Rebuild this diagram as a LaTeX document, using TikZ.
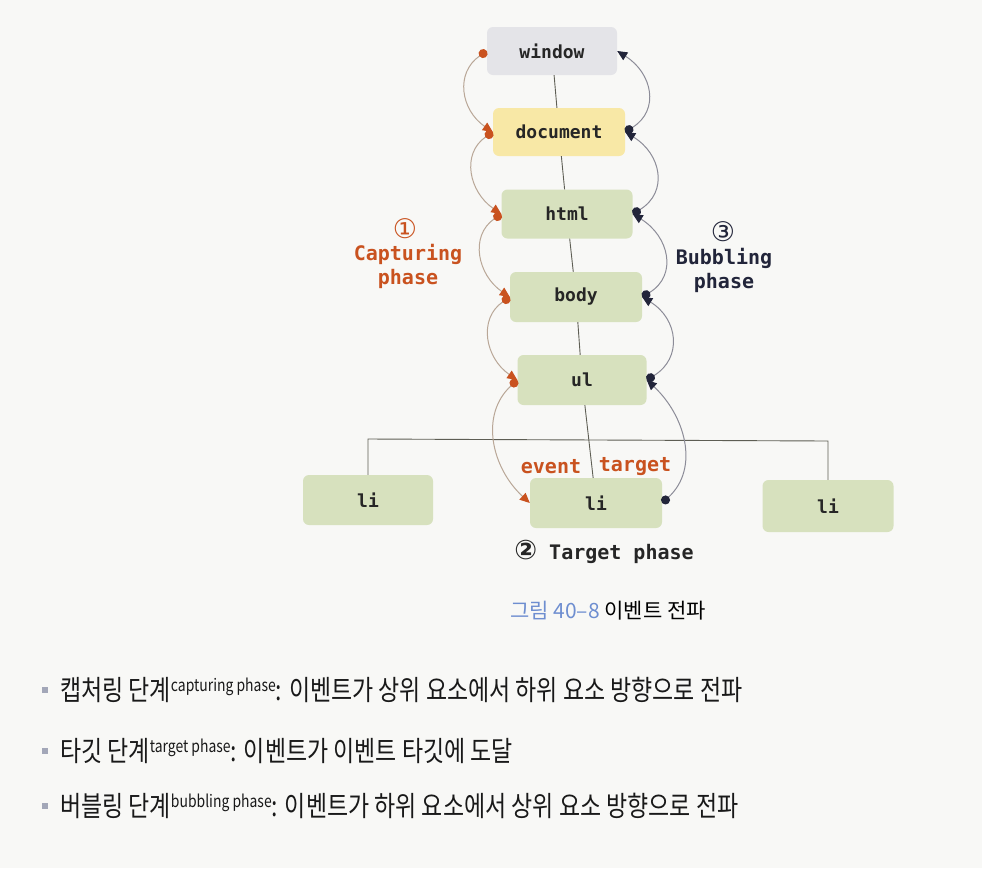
\documentclass[tikz,border=0pt]{standalone}
\usepackage{fontspec}
\setmainfont{Fira Sans}
\newfontfamily\monofnt{DejaVu Sans Mono}[BoldFont={DejaVu Sans Mono Bold}]
\newfontfamily\circfont{DejaVu Sans}
\newfontfamily\krfont{Noto Sans CJK KR}[FakeStretch=0.82]
\newfontfamily\krcap{Noto Sans CJK KR}
\usetikzlibrary{arrows.meta}
\definecolor{capc}{HTML}{C9521F}
\definecolor{bubc}{HTML}{22253A}
\definecolor{wingray}{HTML}{E4E4E8}
\definecolor{docyel}{HTML}{F8E8A6}
\definecolor{elgreen}{HTML}{D7E1BE}
\definecolor{capline}{HTML}{B9A797}
\definecolor{bubline}{HTML}{8C8C98}
\definecolor{capblue}{HTML}{6E8ED0}
\definecolor{treeline}{HTML}{5E5E54}
\definecolor{bgc}{HTML}{F8F8F6}
\definecolor{bulc}{HTML}{A3A7B8}
\tikzset{
  elem/.style={rounded corners=6pt, minimum height=48pt, inner sep=0pt,
    font=\monofnt\bfseries\fontsize{18}{18}\selectfont, text=black!85},
  treeln/.style={draw=treeline, line width=0.9pt},
  capar/.style={draw=capline, line width=1pt,
    {Circle[length=9pt,color=capc]}-{Triangle[length=10pt,width=9pt,color=capc]}},
  bubar/.style={draw=bubline, line width=1pt,
    {Circle[length=9pt,color=bubc]}-{Triangle[length=10pt,width=9pt,color=bubc]}},
  lab/.style={font=\monofnt\bfseries\fontsize{20}{24}\selectfont, align=center, inner sep=0pt},
  circ/.style={font=\circfont\fontsize{27}{27}\selectfont, inner sep=0pt},
  bul/.style={fill=bulc, minimum size=6pt, inner sep=0pt},
  btext/.style={anchor=west, inner sep=0pt, font=\krfont\fontsize{28}{28}\selectfont, text=black!90},
}
\newcommand{\supt}[1]{\raisebox{9pt}{\fontsize{17}{17}\selectfont #1}}
\begin{document}
\begin{tikzpicture}[x=1pt,y=-1pt]
\fill[bgc] (0,0) rectangle (982,868);
\useasboundingbox (0,0) rectangle (982,868);

% elements
\node[elem,fill=wingray,minimum width=130pt] (window) at (552,51) {window};
\node[elem,fill=docyel,minimum width=132pt] (document) at (559,132) {document};
\node[elem,fill=elgreen,minimum width=131pt,minimum height=49pt] (html) at (567,214) {html};
\node[elem,fill=elgreen,minimum width=132pt,minimum height=50pt] (body) at (576,297) {body};
\node[elem,fill=elgreen,minimum width=129pt,minimum height=50pt] (ul) at (582,380) {ul};
\node[elem,fill=elgreen,minimum width=130pt,minimum height=50pt] (li1) at (368,500) {li};
\node[elem,fill=elgreen,minimum width=132pt,minimum height=50pt] (li2) at (596,503) {li};
\node[elem,fill=elgreen,minimum width=131pt,minimum height=52pt] (li3) at (828,506) {li};

% tree lines
\draw[treeln] (window) -- (document);
\draw[treeln] (document) -- (html);
\draw[treeln] (html) -- (body);
\draw[treeln] (body) -- (ul);
\draw[treeln] (ul) -- (li2);
\coordinate (hl) at (368,439);
\coordinate (hr) at (828,441);
\draw[treeln] (li1.north) -- (hl) -- (hr) -- (li3.north);

% capturing arcs
\draw[capar] (window.west) .. controls +(-32,22) and +(-32,-22) .. (document.west);
\draw[capar] (document.west) .. controls +(-32,22) and +(-32,-22) .. (html.west);
\draw[capar] (html.west) .. controls +(-32,22) and +(-32,-22) .. (body.west);
\draw[capar] (body.west) .. controls +(-32,22) and +(-32,-22) .. (ul.west);
\draw[capar] (ul.west) .. controls +(-38,35) and +(-38,-35) .. (li2.west);

% bubbling arcs
\draw[bubar] (li2.east) .. controls +(38,-35) and +(38,35) .. (ul.east);
\draw[bubar] (ul.east) .. controls +(36,-22) and +(36,22) .. (body.east);
\draw[bubar] (body.east) .. controls +(36,-22) and +(36,22) .. (html.east);
\draw[bubar] (html.east) .. controls +(36,-22) and +(36,22) .. (document.east);
\draw[bubar] (document.east) .. controls +(35,-22) and +(35,22) .. (window.east);

% labels
\node[circ,text=capc] (c1) at (405,229) {①};
\node[lab,text=capc] (caplab) at (408,266) {Capturing\\phase};
\node[circ,text=bubc] (c3) at (723,232) {③};
\node[lab,text=bubc] (bublab) at (724,270) {Bubbling\\phase};
\node[lab,text=capc] (ev) at (551,467) {event};
\node[lab,text=capc] (tg) at (635,467) {target};
\node[lab,text=black!85] (tp) at (604,552) {{\circfont\fontsize{27}{27}\selectfont ②} Target phase};

% caption
\node[inner sep=0pt, font=\krcap\fontsize{21}{21}\selectfont] (cap) at (608,611)
  {\textcolor{capblue}{그림 40–8} 이벤트 전파};

% bullets
\node[bul] (b1) at (45,690) {};
\node[btext] (t1) at (60,690) {캡처링 단계\supt{capturing phase}: 이벤트가 상위 요소에서 하위 요소 방향으로 전파};
\node[bul] (b2) at (45,751) {};
\node[btext] (t2) at (60,751) {타깃 단계\supt{target phase}: 이벤트가 이벤트 타깃에 도달};
\node[bul] (b3) at (45,806) {};
\node[btext] (t3) at (60,806) {버블링 단계\supt{bubbling phase}: 이벤트가 하위 요소에서 상위 요소 방향으로 전파};
\end{tikzpicture}
\end{document}
